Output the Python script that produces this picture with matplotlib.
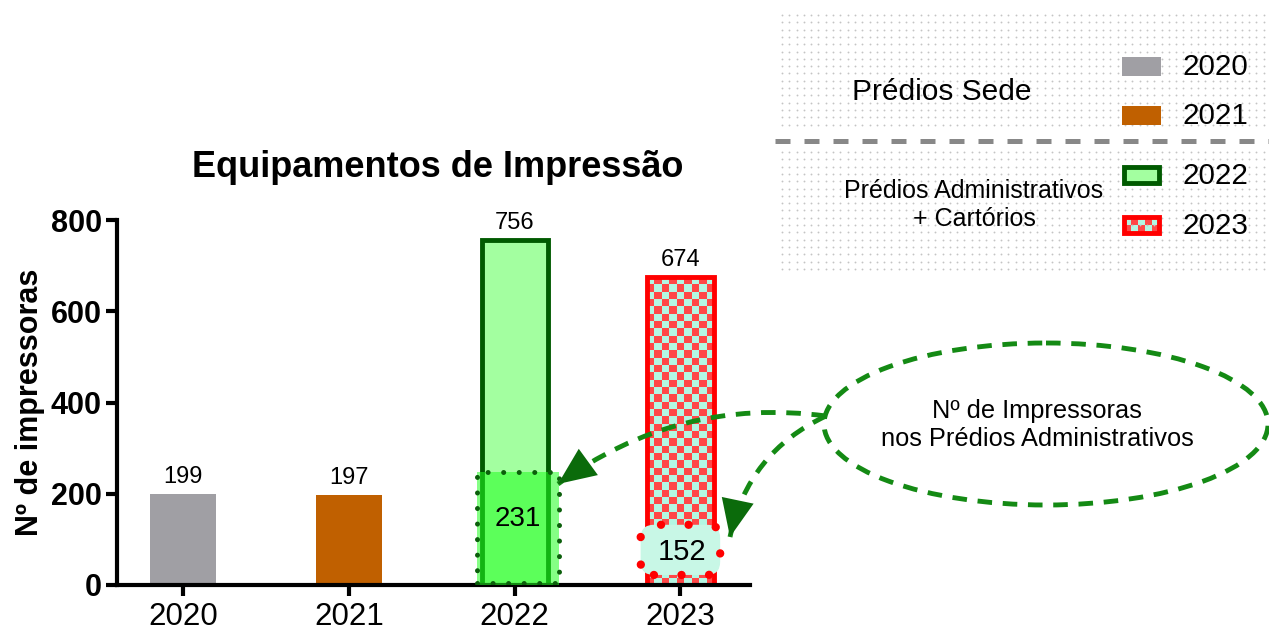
import numpy as np
import matplotlib
matplotlib.use('Agg')
import matplotlib.pyplot as plt
from matplotlib.patches import Rectangle, FancyBboxPatch, Ellipse, FancyArrowPatch

# ---------------- data ----------------
years = ['2020', '2021', '2022', '2023']
totals = [199, 197, 756, 674]
admin_years = ['2022', '2023']
admin_values = [231, 152]
yticks = [0, 200, 400, 600, 800]
title = 'Equipamentos de Impressão'
ylabel = 'Nº de impressoras'
group_labels = ['Prédios Sede', 'Prédios Administrativos\n+ Cartórios']
callout_text = 'Nº de Impressoras\nnos Prédios Administrativos'

# ---------------- styles ----------------
plt.rcParams['font.family'] = ['Liberation Sans', 'DejaVu Sans']
GRAY = '#A09FA4'
ORANGE = '#C06000'
LGREEN = '#A3FFA0'
DGREEN = '#005A00'
RED = '#FF0000'
CHK_RED = '#FF4747'
MINT = '#B3F7E3'
ARROW_G = '#148A14'

W, H = 1269, 635
fig = plt.figure(figsize=(W / 100, H / 100), dpi=100)
ax = fig.add_axes([117 / W, 50 / H, (750 - 117) / W, 365 / H])
x = np.arange(len(years))

faces = [GRAY, ORANGE, LGREEN, 'none']
edges = [GRAY, ORANGE, DGREEN, RED]
lws = [0, 0, 3.5, 3.5]
bars = ax.bar(x, totals, width=0.4, color=faces, edgecolor=edges,
              linewidth=lws, zorder=2)
ax.set_xlim(-0.4, 3.42)
ax.set_ylim(0, 800)

# checkerboard fill for 2023 bar
b = bars[3]
bx0, bw, bh = b.get_x(), b.get_width(), b.get_height()
fig.canvas.draw()
p0 = ax.transData.transform((bx0, 0))
p1 = ax.transData.transform((bx0 + bw, bh))
ncol = 9
cell = (p1[0] - p0[0]) / ncol
nrow = int(round((p1[1] - p0[1]) / cell))
chk = np.add.outer(np.arange(nrow), np.arange(ncol)) % 2
rgb_r = np.array(matplotlib.colors.to_rgb(CHK_RED))
rgb_m = np.array(matplotlib.colors.to_rgb(MINT))
img = np.where(chk[..., None] == 0, rgb_r, rgb_m)
im = ax.imshow(img, extent=(bx0, bx0 + bw, 0, bh), origin='lower',
               interpolation='nearest', aspect='auto', zorder=1.9)
im.set_clip_path(b)
ax.set_xlim(-0.4, 3.42)
ax.set_ylim(0, 800)

# total value labels
for xi, v in zip(x, totals):
    ax.text(xi, v + 14, str(v), ha='center', va='bottom', fontsize=17, zorder=5)

# administrative overlay for 2022
i22 = years.index(admin_years[0])
v22 = admin_values[0]
ax.add_patch(Rectangle((i22 - 0.225, 0), 0.49, v22 + 17, facecolor='#22FF22',
                       alpha=0.55, edgecolor='none', zorder=3))
r = Rectangle((i22 - 0.225, 5), 0.49, v22 + 12, facecolor='none',
              edgecolor='#0B5F0B', linewidth=3.6, linestyle=(0, (0.01, 3.1)),
              zorder=3.2)
r.set_capstyle('round')
ax.add_patch(r)
ax.text(i22 + 0.02, v22 * 0.63, str(v22), ha='center', va='center',
        fontsize=20, zorder=5)

# administrative box for 2023
i23 = years.index(admin_years[1])
v23 = admin_values[1]
aspect = (800 / 365) / (3.82 / 633)
box = FancyBboxPatch((i23 - 0.24, v23 / 2 - 54), 0.48, 110,
                     boxstyle='round,pad=0,rounding_size=0.08',
                     mutation_aspect=aspect, facecolor='#C8F7E6',
                     edgecolor=RED, linewidth=6, linestyle=(0, (0.01, 3.3)),
                     zorder=3)
box.set_capstyle('round')
ax.add_patch(box)
ax.text(i23 + 0.01, v23 / 2 - 4, str(v23), ha='center', va='center',
        fontsize=21, zorder=5)

# axes styling
for s in ['top', 'right']:
    ax.spines[s].set_visible(False)
for s in ['left', 'bottom']:
    ax.spines[s].set_linewidth(3)
ax.set_yticks(yticks)
ax.set_xticks(x, years)
ax.tick_params(axis='both', width=3, length=8, direction='out')
ax.tick_params(axis='x', labelsize=22.5, pad=4)
ax.tick_params(axis='y', labelsize=22, pad=3)
for t in ax.get_yticklabels():
    t.set_fontweight('bold')
ax.set_ylabel(ylabel, fontsize=22, fontweight='bold', labelpad=4)
ax.set_title(title, fontsize=26, fontweight='bold', pad=31, x=0.507)

# ---------------- overlay (pixel coords) ----------------
ov = fig.add_axes([0, 0, 1, 1])
ov.set_xlim(0, W)
ov.set_ylim(H, 0)
ov.axis('off')
ov.patch.set_alpha(0)

# dotted legend background
gx = np.arange(782, W, 7.3)
for ys in (np.arange(15, 127, 7.3), np.arange(152, 270, 7.3)):
    X, Y = np.meshgrid(gx, ys)
    ov.scatter(X.ravel(), Y.ravel(), s=1.8, color='#C4C4C4', linewidths=0)
ov.plot([775, W], [141, 141], color='#888888', linewidth=3.6,
        dashes=(3.0, 2.8), solid_capstyle='butt')

ov.text(942, 92, group_labels[0], ha='center', va='center', fontsize=21.5)
ov.text(974, 205, group_labels[1], ha='center', va='center', fontsize=18,
        linespacing=1.25)

key_y = [66, 115, 175, 225]
for k, (yr, ky) in enumerate(zip(years, key_y)):
    if k < 2:
        ov.add_patch(Rectangle((1122, ky - 9.5), 39, 19, facecolor=faces[k],
                               edgecolor='none'))
    elif k == 2:
        ov.add_patch(Rectangle((1124, ky - 8), 35, 16, facecolor=LGREEN,
                               edgecolor=DGREEN, linewidth=3.5))
    else:
        kim = np.where((np.add.outer(np.arange(2), np.arange(5)) % 2)[..., None] == 0,
                       rgb_m, rgb_r)
        ov.imshow(kim, extent=(1124, 1159, ky + 8, ky - 8), origin='upper',
                  interpolation='nearest', aspect='auto')
        ov.add_patch(Rectangle((1124, ky - 8), 35, 16, facecolor='none',
                               edgecolor=RED, linewidth=3.5))
    ov.text(1183, ky + 1, yr, ha='left', va='center', fontsize=21.3)
ov.set_xlim(0, W)
ov.set_ylim(H, 0)

# callout ellipse
ov.add_patch(Ellipse((1046, 424), 444, 162, facecolor='none', edgecolor=ARROW_G,
                     linewidth=3.5, linestyle=(0, (3, 2.2))))
ov.text(1037, 425, callout_text, ha='center', va='center', fontsize=18.3,
        linespacing=1.25)

for tip, rad in (((558, 484), 0.2), ((730, 537), 0.25)):
    kw = dict(connectionstyle=f'arc3,rad={rad}', shrinkA=0, shrinkB=0)
    shaft = FancyArrowPatch((826, 416), tip, arrowstyle='-', color=ARROW_G,
                            linewidth=3.5, linestyle=(0, (3, 2.2)), **kw)
    shaft.set_capstyle('butt')
    ov.add_patch(shaft)
    head = FancyArrowPatch((826, 416), tip,
                           arrowstyle='-|>,head_length=1.5,head_width=0.65',
                           mutation_scale=18, facecolor='#0B6B0B',
                           edgecolor='none', linewidth=0, **kw)
    ov.add_patch(head)

fig.savefig('out.png', dpi=100)
